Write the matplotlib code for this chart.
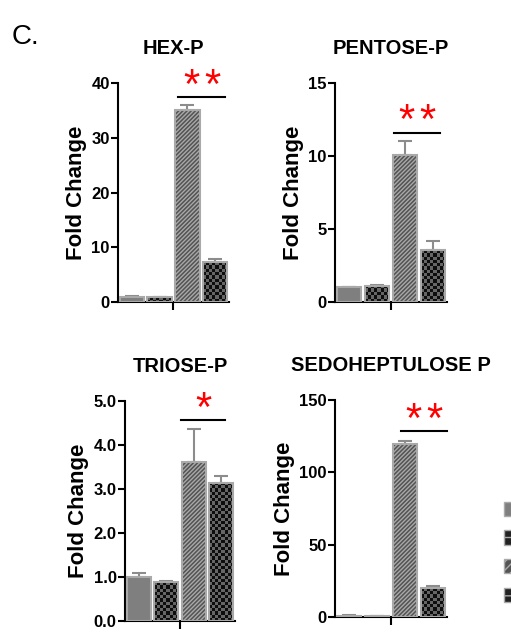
import numpy as np
import matplotlib
matplotlib.use("Agg")
from matplotlib import pyplot as plt
from matplotlib.patches import Patch
from matplotlib.ticker import FormatStrFormatter

plt.rcParams['font.family'] = ['Liberation Sans', 'DejaVu Sans']
plt.rcParams['hatch.linewidth'] = 1.0

# data
titles = ["HEX-P", "PENTOSE-P", "TRIOSE-P", "SEDOHEPTULOSE P"]
hex_mean = [1.0, 0.9, 35.1, 7.3]
hex_err = [0.05, 0.05, 0.9, 0.6]
pent_mean = [1.0, 1.1, 10.1, 3.56]
pent_err = [0.03, 0.08, 0.9, 0.65]
tri_mean = [1.0, 0.88, 3.61, 3.14]
tri_err = [0.1, 0.03, 0.75, 0.15]
sedo_mean = [1.0, 0.4, 119.5, 20.0]
sedo_err = [0.2, 0.1, 2.0, 1.5]
y_max = [40, 15, 5, 150]
y_step = [10, 5, 1, 50]
sig_y = [37.4, 11.6, 4.57, 128.5]
sig_x = [(1.66, 3.36), (1.61, 3.25), (1.54, 3.14), (1.86, 3.5)]
n_stars = [2, 2, 1, 2]

means = [hex_mean, pent_mean, tri_mean, sedo_mean]
errs = [hex_err, pent_err, tri_err, sedo_err]

# axes boxes [left, bottom, width, height] in figure fractions
boxes = [[0.2309, 0.5244, 0.2172, 0.3449],
         [0.6556, 0.5244, 0.2192, 0.3449],
         [0.2446, 0.0220, 0.2153, 0.3465],
         [0.6556, 0.0283, 0.2192, 0.3417]]

edge = "#a9a9a9"
fig = plt.figure(figsize=(5.11, 6.35), dpi=100)


def checker_fill(ax, bar, c1="#0d0d0d", c2="#666666", cell=3.2):
    x0, y0 = bar.get_x(), bar.get_y()
    x1, y1 = x0 + bar.get_width(), y0 + bar.get_height()
    p0 = ax.transData.transform((x0, y0))
    p1 = ax.transData.transform((x1, y1))
    nx = max(1, int(round(abs(p1[0] - p0[0]) / cell)))
    ny = max(1, int(round(abs(p1[1] - p0[1]) / cell)))
    grid = (np.add.outer(np.arange(ny), np.arange(nx)) % 2).astype(float)
    im = ax.imshow(grid, cmap=matplotlib.colors.ListedColormap([c1, c2]),
                   extent=(x0, x1, y0, y1), origin="lower", aspect="auto",
                   interpolation="nearest", zorder=2)
    im.set_clip_path(bar)


x = np.arange(4)
for i in range(4):
    ax = fig.add_axes(boxes[i])
    ax.set_xlim(-0.5, 3.5)
    ax.set_ylim(0, y_max[i])
    bars = ax.bar(x, means[i], width=0.88, color=["#7f7f7f", "#6b6b6b", "#545454", "#6b6b6b"],
                  edgecolor=edge, linewidth=1.5, zorder=2)
    bars[2].set_hatch("////////")
    bars[2].set_edgecolor(edge)
    ax.errorbar(x, means[i], yerr=[np.zeros(4), errs[i]], fmt="none",
                ecolor="#8c8c8c", elinewidth=1.5, capsize=5, capthick=1.5, zorder=1)
    fig.canvas.draw()
    checker_fill(ax, bars[1])
    checker_fill(ax, bars[3])
    bars[1].set_facecolor("none")
    bars[3].set_facecolor("none")
    for b in bars:
        b.set_zorder(3)

    ax.set_yticks(np.arange(0, y_max[i] + 0.01, y_step[i]))
    if i == 2:
        ax.yaxis.set_major_formatter(FormatStrFormatter('%.1f'))
    ax.set_xticks([1.5])
    ax.set_xticklabels([""])
    ax.tick_params(axis="y", labelsize=12, width=1.5, length=5, pad=1)
    ax.tick_params(axis="x", width=1.5, length=6)
    for lab in ax.get_yticklabels():
        lab.set_fontweight("bold")
    ax.spines["top"].set_visible(False)
    ax.spines["right"].set_visible(False)
    ax.spines["left"].set_linewidth(1.5)
    ax.spines["bottom"].set_linewidth(1.5)
    ax.set_ylabel("Fold Change", fontsize=16, fontweight="bold", labelpad=3)
    ax.set_title(titles[i], fontsize=14.5, fontweight="bold", pad=21)

    ax.plot(sig_x[i], [sig_y[i], sig_y[i]], color="black", lw=1.5, clip_on=False)
    xc = np.mean(sig_x[i])
    offsets = [-7.5, 7.5] if n_stars[i] == 2 else [0]
    for dx in offsets:
        ax.annotate("*", xy=(xc, sig_y[i]), xytext=(dx, -7), textcoords="offset points",
                    color="red", fontsize=30, ha="center", va="bottom", annotation_clip=False)

fig.text(0.022, 0.93, "C.", fontsize=20)

# legend, mostly off the right edge like in the original
handles = [Patch(facecolor="#7f7f7f", edgecolor=edge),
           Patch(facecolor="#222222", edgecolor=edge, hatch="++"),
           Patch(facecolor="#545454", edgecolor=edge, hatch="////"),
           Patch(facecolor="#222222", edgecolor=edge, hatch="++")]
fig.legend(handles, ["", "", "", ""], loc="upper left", bbox_to_anchor=(0.986, 0.21),
           frameon=False, handlelength=1.4, handleheight=1.2, labelspacing=1.0,
           borderpad=0, borderaxespad=0, handletextpad=0.3)

fig.savefig("out.png", dpi=100)
